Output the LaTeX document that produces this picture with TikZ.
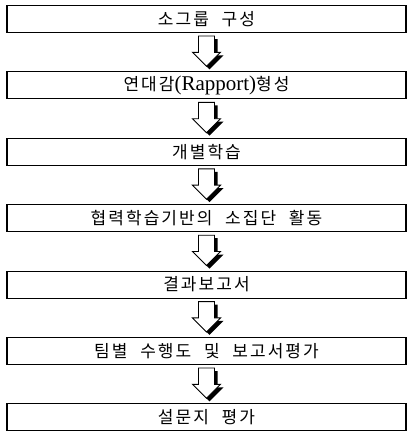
\documentclass[tikz,border=0pt]{standalone}
\usepackage{fontspec}
\newfontfamily\kofont[LetterSpace=12]{Noto Sans CJK KR}
\newfontfamily\rapfont{Liberation Serif}
\usetikzlibrary{positioning,calc,shadows}
\newcommand\kgap{\hspace{0.75em}}

\tikzset{
  stepbox/.style={draw, line width=1.1pt, minimum width=399pt, minimum height=27pt, inner sep=0pt, font=\kofont\fontsize{17}{18}\selectfont},
  flowarrow/.style={draw, line width=0.9pt, fill=white, line join=miter, drop shadow={opacity=1, fill=black, shadow xshift=3pt, shadow yshift=-3pt}},
}

\begin{document}
\begin{tikzpicture}[x=1pt, y=1pt, node distance=38.3pt]
    \useasboundingbox (0,0) rectangle (408,433);

    % process steps
    \node[stepbox] (s1) at (206.5,414) {소그룹\kgap 구성};
    \node[stepbox, below=of s1] (s2) {연대감{\rapfont\fontsize{21}{18}\selectfont(Rapport)}형성};
    \node[stepbox, below=of s2] (s3) {개별학습};
    \node[stepbox, below=of s3] (s4) {협력학습기반의\kgap 소집단\kgap 활동};
    \node[stepbox, below=of s4] (s5) {결과보고서};
    \node[stepbox, below=of s5] (s6) {팀별\kgap 수행도\kgap 및\kgap 보고서평가};
    \node[stepbox, below=of s6] (s7) {설문지\kgap 평가};

    % hollow arrows
    \foreach \a/\b in {s1/s2, s2/s3, s3/s4, s4/s5, s5/s6, s6/s7} {
        \draw[flowarrow] ($(\a.south)+(-8,-3)$) -- ($(\a.south)+(8,-3)$) -- ($(\b.north)+(8,19)$) -- ($(\b.north)+(14,19)$)
            -- ($(\b.north)+(0,5)$) -- ($(\b.north)+(-14,19)$) -- ($(\b.north)+(-8,19)$) -- cycle;
    }
\end{tikzpicture}
\end{document}
